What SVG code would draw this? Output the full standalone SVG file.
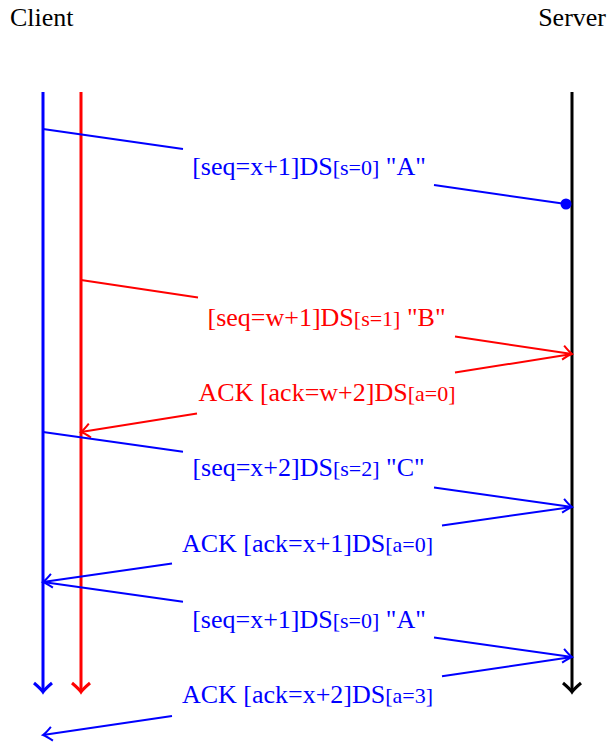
<svg xmlns="http://www.w3.org/2000/svg" width="609" height="742" viewBox="0 0 609 742">
<style>
text{font-family:"Liberation Serif","Times New Roman",serif;font-size:26px}
.lbl{text-anchor:middle}
.s{font-size:22px}
.b{fill:#0000ff}.r{fill:#ff0000}
.mb{stroke:#0000ff;stroke-width:2;fill:none}
.mr{stroke:#ff0000;stroke-width:2;fill:none}
</style>
<defs>
<marker id="ab" markerUnits="userSpaceOnUse" markerWidth="20" markerHeight="20" viewBox="-12 -10 14 20" refX="0" refY="0" orient="auto"><path d="M-9,-7 Q-3,-1.5 0,0 Q-3,1.5 -9,7" fill="none" stroke="#0000ff" stroke-width="2"/></marker>
<marker id="ar" markerUnits="userSpaceOnUse" markerWidth="20" markerHeight="20" viewBox="-12 -10 14 20" refX="0" refY="0" orient="auto"><path d="M-9,-7 Q-3,-1.5 0,0 Q-3,1.5 -9,7" fill="none" stroke="#ff0000" stroke-width="2"/></marker>
<marker id="ak" markerUnits="userSpaceOnUse" markerWidth="20" markerHeight="24" viewBox="-12 -12 14 24" refX="0" refY="0" orient="auto"><path d="M-9,-9 Q-3,-2 0,0 Q-3,2 -9,9" fill="none" stroke="#000" stroke-width="3"/></marker>
<marker id="abl" markerUnits="userSpaceOnUse" markerWidth="20" markerHeight="24" viewBox="-12 -12 14 24" refX="0" refY="0" orient="auto"><path d="M-9,-9 Q-3,-2 0,0 Q-3,2 -9,9" fill="none" stroke="#0000ff" stroke-width="3"/></marker>
<marker id="arl" markerUnits="userSpaceOnUse" markerWidth="20" markerHeight="24" viewBox="-12 -12 14 24" refX="0" refY="0" orient="auto"><path d="M-9,-9 Q-3,-2 0,0 Q-3,2 -9,9" fill="none" stroke="#ff0000" stroke-width="3"/></marker>
</defs>
<g id="client"><text x="10" y="26">Client</text><line x1="43" y1="92" x2="43" y2="692" stroke="#0000ff" stroke-width="3" marker-end="url(#abl)"/></g>
<g id="client2"><line x1="81" y1="92" x2="81" y2="692" stroke="#ff0000" stroke-width="3" marker-end="url(#arl)"/></g>
<g id="server"><text x="606" y="26" text-anchor="end">Server</text><line x1="572" y1="92" x2="572" y2="692" stroke="#000" stroke-width="3" marker-end="url(#ak)"/></g>
<g id="connectors">
<path class="mb" d="M43,129 L183,149 M434,185 L566,204"/>
<circle cx="566" cy="204" r="5.5" fill="#0000ff"/>
<path class="mr" d="M81,280 L198,297.6 M455,336.5 L572,354" marker-end="url(#ar)"/>
<path class="mr" d="M572,354 L455,372.6 M197,413.6 L81,432" marker-end="url(#ar)"/>
<path class="mb" d="M43,432 L183,451.8 M434,487.4 L572,507" marker-end="url(#ab)"/>
<path class="mb" d="M572,507 L442,525.4 M172,563.6 L43,582" marker-end="url(#ab)"/>
<path class="mb" d="M43,582 L183,601.8 M434,637.4 L572,657" marker-end="url(#ab)"/>
<path class="mb" d="M572,657 L442,676.2 M172,716 L43,735" marker-end="url(#ab)"/>
</g>
<g id="labels">
<text class="lbl b" x="309" y="175">[seq=x+1]DS<tspan class="s">[s=0]</tspan> "A"</text>
<text class="lbl r" x="326.5" y="326">[seq=w+1]DS<tspan class="s">[s=1]</tspan> "B"</text>
<text class="lbl r" x="327" y="401">ACK [ack=w+2]DS<tspan class="s">[a=0]</tspan></text>
<text class="lbl b" x="308.5" y="476">[seq=x+2]DS<tspan class="s">[s=2]</tspan> "C"</text>
<text class="lbl b" x="307.5" y="552">ACK [ack=x+1]DS<tspan class="s">[a=0]</tspan></text>
<text class="lbl b" x="309" y="628">[seq=x+1]DS<tspan class="s">[s=0]</tspan> "A"</text>
<text class="lbl b" x="307.5" y="703">ACK [ack=x+2]DS<tspan class="s">[a=3]</tspan></text>
</g>
</svg>
